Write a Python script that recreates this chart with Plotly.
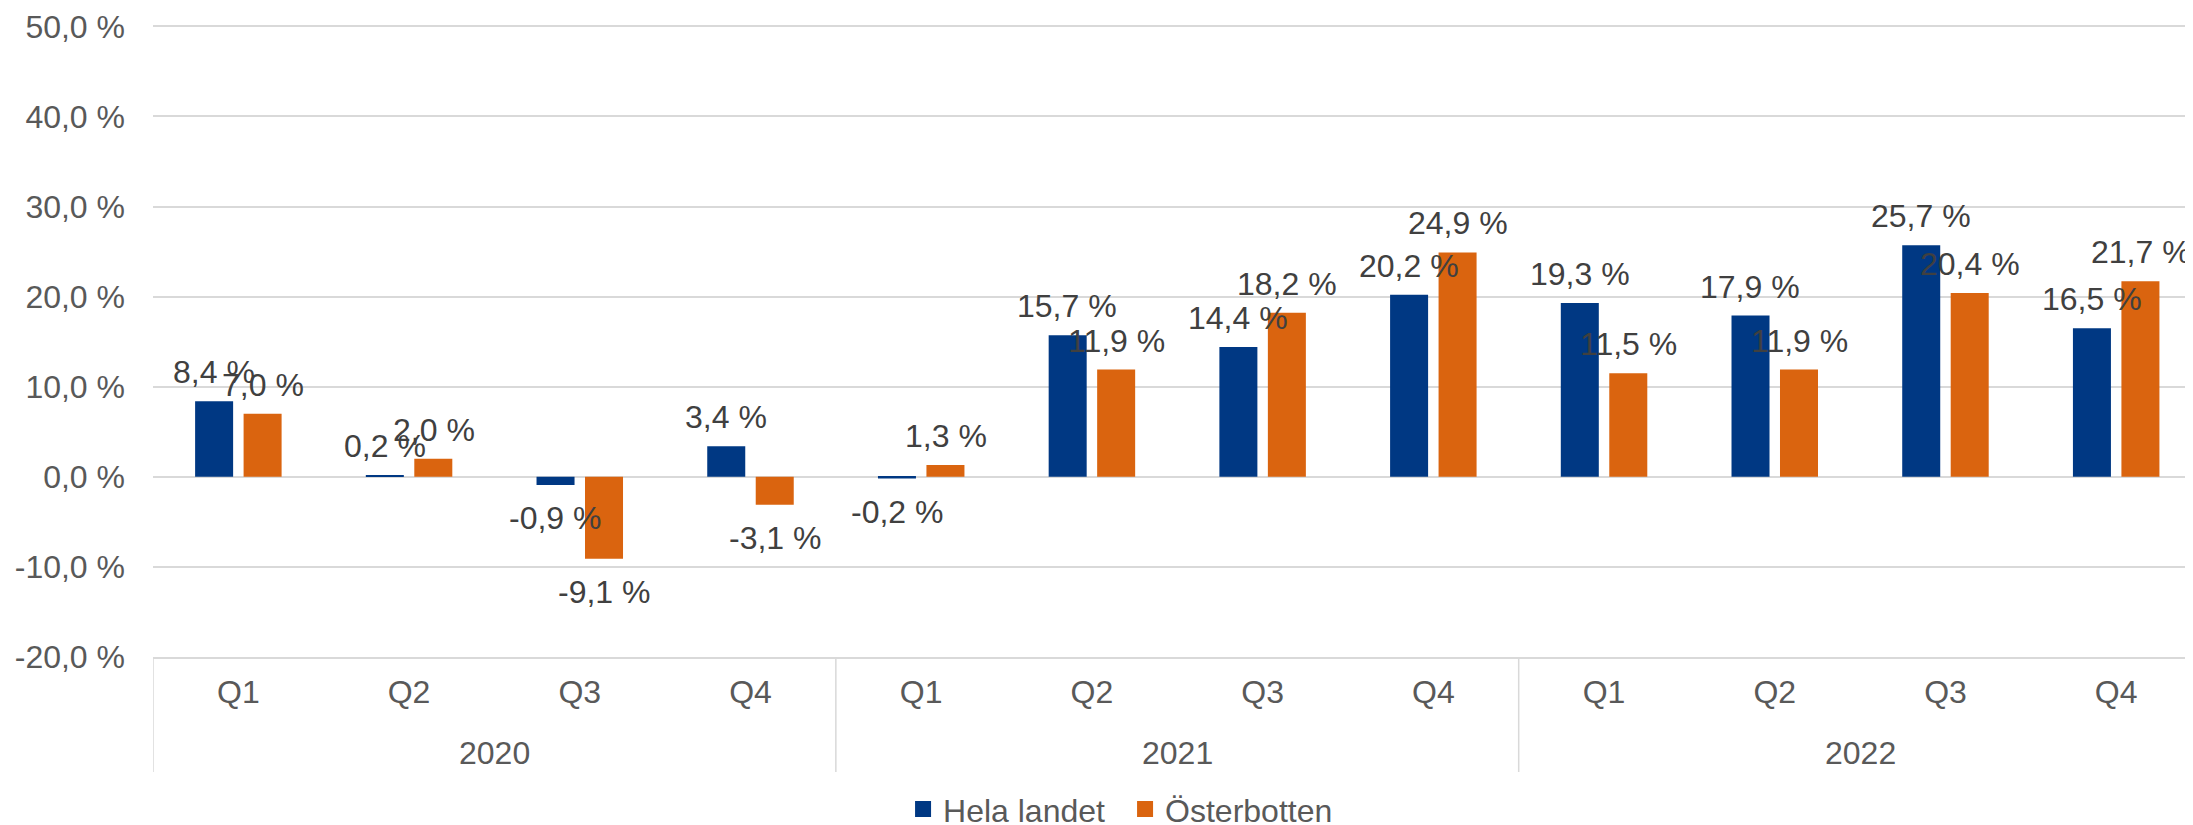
import plotly.graph_objects as go

years = ["2020", "2021", "2022"]
quarters = ["Q1", "Q2", "Q3", "Q4"]
hela_landet = [8.4, 0.2, -0.9, 3.4, -0.2, 15.7, 14.4, 20.2, 19.3, 17.9, 25.7, 16.5]
osterbotten = [7.0, 2.0, -9.1, -3.1, 1.3, 11.9, 18.2, 24.9, 11.5, 11.9, 20.4, 21.7]
y_ticks = [-20, -10, 0, 10, 20, 30, 40, 50]

BLUE = "#003883"
ORANGE = "#DA640F"
GRID = "#D9D9D9"
FONT = "Liberation Sans, Arial, sans-serif"
FS = 32

cats = [y + " " + q for y in years for q in quarters]
qlabels = [q for y in years for q in quarters]


def pct(v):
    return ("%.1f" % v).replace(".", ",") + " %"


fig = go.Figure()
fig.add_trace(go.Bar(x=cats, y=hela_landet, name="Hela landet",
                     marker=dict(color=BLUE, line=dict(width=0)), showlegend=False))
fig.add_trace(go.Bar(x=cats, y=osterbotten, name="Österbotten",
                     marker=dict(color=ORANGE, line=dict(width=0)), showlegend=False))

# legend entries with bigger square symbols
fig.add_trace(go.Scatter(x=[None], y=[None], mode="markers", name="Hela landet",
                         marker=dict(symbol="square", size=17, color=BLUE)))
fig.add_trace(go.Scatter(x=[None], y=[None], mode="markers", name="Österbotten",
                         marker=dict(symbol="square", size=17, color=ORANGE)))

# data labels
annots = []
for series, shift in ((hela_landet, -24.5), (osterbotten, 24.5)):
    for c, v in zip(cats, series):
        annots.append(dict(x=c, y=v, xref="x", yref="y", text=pct(v), showarrow=False,
                           xshift=shift, yshift=9 if v >= 0 else -13,
                           yanchor="bottom" if v >= 0 else "top",
                           font=dict(size=FS, color="#404040", family=FONT)))

# year labels
for i, yr in enumerate(years):
    annots.append(dict(x=i * 4 + 1.5, y=-0.152, xref="x", yref="paper", text=yr,
                       showarrow=False, yanchor="middle",
                       font=dict(size=FS, color="#595959", family=FONT)))

shapes = []
for i in range(len(years)):
    shapes.append(dict(type="line", xref="x", yref="paper", x0=i * 4 - 0.5, x1=i * 4 - 0.5,
                       y0=0, y1=-0.182, line=dict(color=GRID, width=1.5)))

# page body has an 8px margin, so the figure is 8px smaller than the window
fig.update_layout(
    width=2185, height=817,
    margin=dict(l=145, r=0, t=17, b=168, autoexpand=False),
    paper_bgcolor="white", plot_bgcolor="white",
    barmode="group", bargap=0.432, bargroupgap=0.216,
    font=dict(family=FONT, size=FS, color="#595959"),
    annotations=annots, shapes=shapes,
    legend=dict(orientation="h", x=0.4765, xanchor="center", y=-0.241, yanchor="middle",
                font=dict(size=FS, color="#595959"), itemwidth=30,
                entrywidth=177, entrywidthmode="pixels"),
    xaxis=dict(range=[-0.5, 11.45], tickvals=cats, ticktext=qlabels, showgrid=False,
               zeroline=False, showline=True, linecolor=GRID, linewidth=2,
               ticklabelstandoff=6, automargin=False,
               tickfont=dict(size=FS, color="#595959")),
    yaxis=dict(range=[-20, 50.15], tickvals=y_ticks, ticktext=[pct(t) for t in y_ticks],
               showgrid=True, gridcolor=GRID, gridwidth=2, zeroline=True,
               zerolinecolor=GRID, zerolinewidth=2, ticklabelstandoff=27,
               automargin=False, tickfont=dict(size=FS, color="#595959")),
)

fig.write_html("out.html")
